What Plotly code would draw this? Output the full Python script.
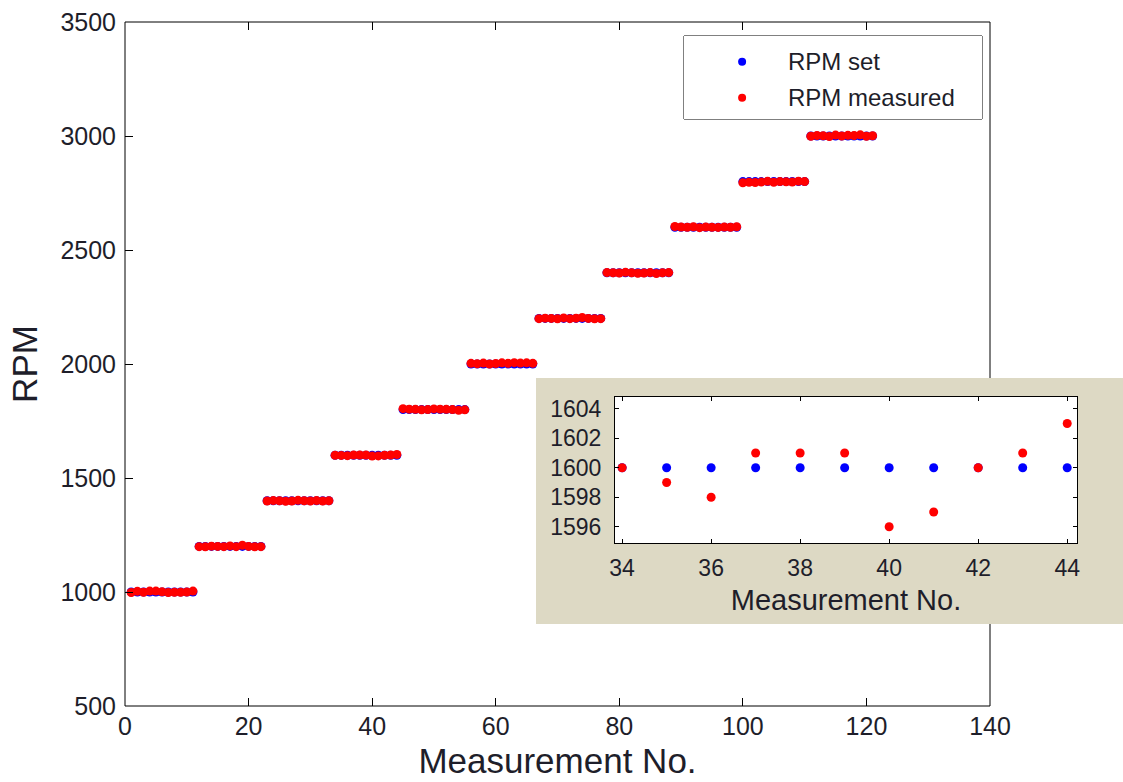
import plotly.graph_objects as go

# ---------------- data ----------------
set_levels = [1000, 1200, 1400, 1600, 1800, 2000, 2200, 2400, 2600, 2800, 3000]
points_per_level = 11

m1000 = [998, 1003, 999, 1004, 1004, 1001, 998, 999, 999, 1000, 1004]
m1200 = [1199, 1198, 1201, 1200, 1199, 1202, 1199, 1205, 1200, 1198, 1199]
m1400 = [1399, 1401, 1400, 1398, 1399, 1402, 1400, 1399, 1401, 1399, 1400]
m1600 = [1600, 1599, 1598, 1601, 1601, 1601, 1596, 1597, 1600, 1601, 1603]
m1800 = [1804, 1802, 1801, 1799, 1800, 1803, 1802, 1801, 1800, 1797, 1799]
m2000 = [2003, 2001, 2004, 2000, 2002, 2005, 2003, 2006, 2004, 2005, 2003]
m2200 = [2199, 2201, 2200, 2198, 2202, 2199, 2201, 2204, 2200, 2198, 2199]
m2400 = [2401, 2400, 2399, 2402, 2400, 2398, 2399, 2401, 2397, 2400, 2401]
m2600 = [2603, 2601, 2600, 2602, 2598, 2601, 2600, 2599, 2601, 2600, 2602]
m2800 = [2795, 2797, 2796, 2798, 2801, 2797, 2800, 2799, 2798, 2802, 2800]
m3000 = [2999, 3002, 3001, 2998, 3004, 3000, 3003, 3002, 3005, 2999, 3001]

measured_blocks = [m1000, m1200, m1400, m1600, m1800, m2000,
                   m2200, m2400, m2600, m2800, m3000]

measurement_no = list(range(1, len(set_levels) * points_per_level + 1))
rpm_set = [lvl for lvl in set_levels for _ in range(points_per_level)]
rpm_measured = [v for blk in measured_blocks for v in blk]

# inset: zoom on the 1600 rpm block (measurements 34..44)
inset_start = 34
inset_end = 44

x_ticks_main = [0, 20, 40, 60, 80, 100, 120, 140]
y_ticks_main = [500, 1000, 1500, 2000, 2500, 3000, 3500]
y_ticks_right_visible = [2000, 2500, 3000, 3500]   # right-side ticks not hidden by the inset panel
x_ticks_inset = [34, 36, 38, 40, 42, 44]
y_ticks_inset = [1596, 1598, 1600, 1602, 1604]

legend_labels = ["RPM set", "RPM measured"]

# ---------------- style ----------------
W, H = 1123, 782
FONT = "Liberation Sans, Arial, sans-serif"
TXT = "#1e1e2a"
BLUE = "#0000ff"
RED = "#ff0000"
BEIGE = "#DDD9C4"


def px_x(p):
    return p / W


def px_y(p):
    return 1 - p / H


inset_idx = [i for i, n in enumerate(measurement_no) if inset_start <= n <= inset_end]
ix = [measurement_no[i] for i in inset_idx]
iset = [rpm_set[i] for i in inset_idx]
imeas = [rpm_measured[i] for i in inset_idx]

fig = go.Figure()

# main plot
fig.add_trace(go.Scatter(x=measurement_no, y=rpm_set, mode="markers",
                         marker=dict(color=BLUE, size=9, line=dict(width=0)),
                         xaxis="x", yaxis="y", showlegend=False, name=legend_labels[0]))
fig.add_trace(go.Scatter(x=measurement_no, y=rpm_measured, mode="markers",
                         marker=dict(color=RED, size=9, line=dict(width=0)),
                         xaxis="x", yaxis="y", showlegend=False, name=legend_labels[1]))

# inset
fig.add_trace(go.Scatter(x=ix, y=iset, mode="markers",
                         marker=dict(color=BLUE, size=9, line=dict(width=0)),
                         xaxis="x2", yaxis="y2", showlegend=False))
fig.add_trace(go.Scatter(x=ix, y=imeas, mode="markers",
                         marker=dict(color=RED, size=9, line=dict(width=0)),
                         xaxis="x2", yaxis="y2", showlegend=False))

# custom legend symbols (hidden axes spanning the legend box)
fig.add_trace(go.Scatter(x=[0.195, 0.195], y=[0.69, 0.255], mode="markers",
                         marker=dict(color=[BLUE, RED], size=8, line=dict(width=0)),
                         xaxis="x3", yaxis="y3", showlegend=False, hoverinfo="skip"))

main_dom_x = [px_x(125), px_x(990)]
main_dom_y = [px_y(706), px_y(22)]
inset_dom_x = [px_x(615), px_x(1077)]
inset_dom_y = [px_y(543), px_y(397)]
leg_dom_x = [px_x(684), px_x(982)]
leg_dom_y = [px_y(119), px_y(36)]

axis_common = dict(showgrid=False, zeroline=False, color=TXT, automargin=False)
main_tick_font = dict(family=FONT, size=25, color=TXT)
inset_tick_font = dict(family=FONT, size=23, color=TXT)

fig.update_layout(
    template="none",
    width=W, height=H,
    margin=dict(l=0, r=0, t=0, b=0, pad=0),
    paper_bgcolor="white", plot_bgcolor="white",
    font=dict(family=FONT, color=TXT),
    xaxis=dict(domain=main_dom_x, anchor="y", range=[0, 140], tickvals=x_ticks_main,
               ticks="inside", ticklen=8, tickcolor="black", showline=False, mirror="ticks",
               ticklabelstandoff=3, tickfont=main_tick_font,
               title=dict(text="Measurement No.", font=dict(family=FONT, size=35, color=TXT), standoff=9),
               **axis_common),
    yaxis=dict(domain=main_dom_y, anchor="x", range=[500, 3500], tickvals=y_ticks_main,
               ticks="inside", ticklen=8, tickcolor="black", showline=False, mirror=False,
               ticklabelstandoff=8, tickfont=main_tick_font,
               title=dict(text="RPM", font=dict(family=FONT, size=35, color=TXT), standoff=12),
               **axis_common),
    yaxis4=dict(domain=main_dom_y, anchor="x", overlaying="y", side="right", range=[500, 3500],
                tickvals=y_ticks_right_visible, ticks="inside", ticklen=8, tickcolor="black",
                showticklabels=False, showline=False, **axis_common),
    xaxis2=dict(domain=inset_dom_x, anchor="y2", range=[33.84, 44.22], tickvals=x_ticks_inset,
                ticks="inside", ticklen=4, tickcolor="black", showline=True, linecolor="black",
                linewidth=1, mirror="ticks", ticklabelstandoff=4, tickfont=inset_tick_font,
                title=dict(text="Measurement No.", font=dict(family=FONT, size=29, color=TXT), standoff=10),
                **axis_common),
    yaxis2=dict(domain=inset_dom_y, anchor="x2", range=[1594.9, 1604.8], tickvals=y_ticks_inset,
                ticks="inside", ticklen=4, tickcolor="black", showline=True, linecolor="black",
                linewidth=1, mirror="ticks", ticklabelstandoff=8, tickfont=inset_tick_font,
                **axis_common),
    xaxis3=dict(domain=leg_dom_x, anchor="y3", range=[0, 1], visible=False, fixedrange=True),
    yaxis3=dict(domain=leg_dom_y, anchor="x3", range=[0, 1], visible=False, fixedrange=True),
    shapes=[
        # main frame
        dict(type="rect", xref="x domain", yref="y domain", x0=0, x1=1, y0=0, y1=1,
             line=dict(color="black", width=1), fillcolor="rgba(0,0,0,0)", layer="below"),
        # beige inset panel
        dict(type="rect", xref="paper", yref="paper", x0=px_x(536), x1=1.0,
             y0=px_y(624), y1=px_y(378), line=dict(width=0), fillcolor=BEIGE, layer="below"),
        # inset plot area
        dict(type="rect", xref="x2 domain", yref="y2 domain", x0=0, x1=1, y0=0, y1=1,
             line=dict(width=0), fillcolor="white", layer="below"),
        # legend box
        dict(type="rect", xref="x3 domain", yref="y3 domain", x0=0, x1=1, y0=0, y1=1,
             line=dict(color="black", width=1), fillcolor="white", layer="below"),
    ],
    annotations=[
        dict(text=legend_labels[0], xref="x3 domain", yref="y3 domain", x=(786 - 684) / 298, y=0.69,
             xanchor="left", yanchor="middle", showarrow=False,
             font=dict(family=FONT, size=24, color=TXT)),
        dict(text=legend_labels[1], xref="x3 domain", yref="y3 domain", x=(786 - 684) / 298, y=0.255,
             xanchor="left", yanchor="middle", showarrow=False,
             font=dict(family=FONT, size=24, color=TXT)),
    ],
)

fig.write_html("out.html")
